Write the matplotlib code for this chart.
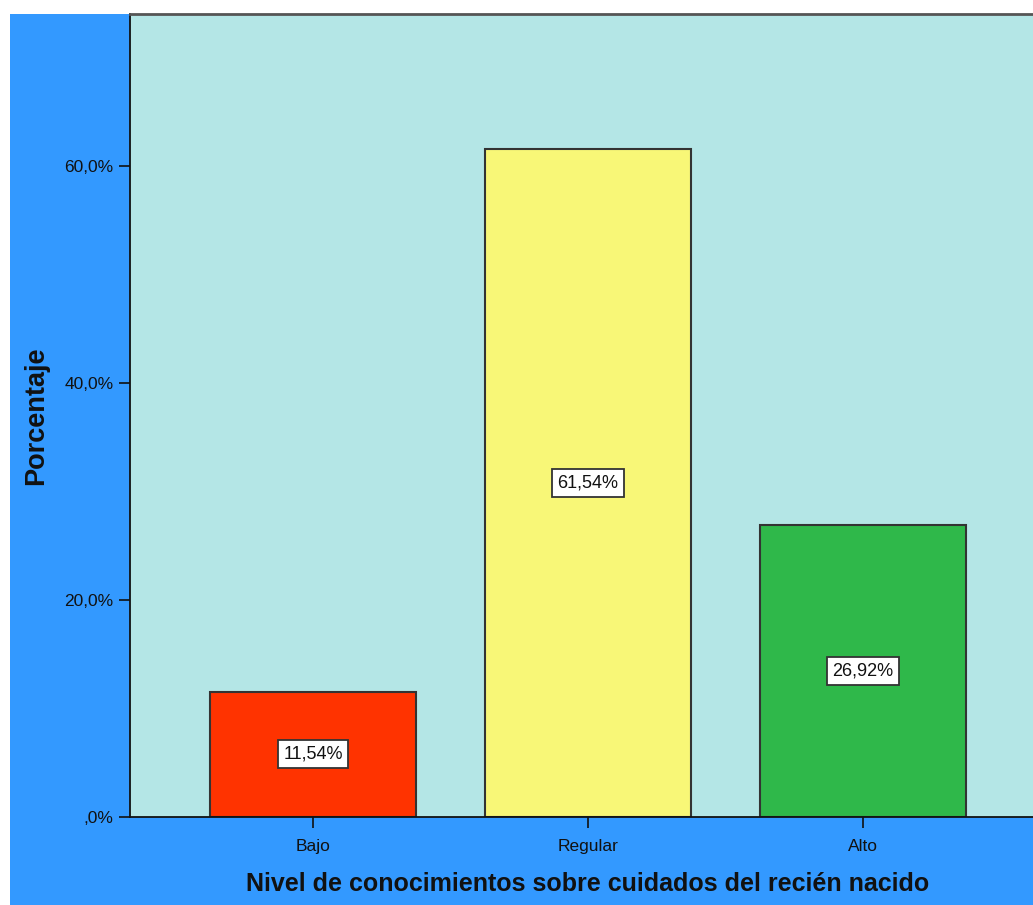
import matplotlib
matplotlib.use("Agg")
import matplotlib.pyplot as plt
from matplotlib.patches import Rectangle
from matplotlib.ticker import FuncFormatter

categories = ["Bajo", "Regular", "Alto"]
percentages = [11.54, 61.54, 26.92]
bar_colors = ["#FF3300", "#F8F777", "#2FB84A"]
yticks = [0, 20, 40, 60]

plt.rcParams['font.family'] = ['Liberation Sans', 'DejaVu Sans']

W, H = 1033, 905
fig = plt.figure(figsize=(W / 100, H / 100), dpi=100, facecolor="white")
fig.patches.append(Rectangle((10 / W, 0), 1 - 10 / W, (H - 14) / H,
                             transform=fig.transFigure, facecolor="#3399FF",
                             edgecolor="none", zorder=-10))

ax = fig.add_axes([130 / W, (H - 817) / H, (1046 - 130) / W, (817 - 14) / H])
ax.set_facecolor("#B4E6E6")

x = list(range(len(categories)))
ax.bar(x, percentages, width=0.75, color=bar_colors, edgecolor="#333333",
       linewidth=1.5, zorder=2)

for xi, v in zip(x, percentages):
    ax.text(xi, v / 2, f"{v:.2f}%".replace(".", ","), ha="center", va="center",
            fontsize=13, color="#111111", zorder=3,
            bbox=dict(boxstyle="square,pad=0.3", facecolor="white",
                      edgecolor="#333333", linewidth=1.3))

ax.set_xlim(-0.665, 2.665)
ax.set_ylim(0, 74)
ax.set_yticks(yticks)
ax.yaxis.set_major_formatter(FuncFormatter(
    lambda v, p: (",0%" if v == 0 else f"{v:.1f}%".replace(".", ","))))
ax.set_xticks(x)
ax.set_xticklabels(categories)
ax.tick_params(axis="both", direction="out", length=8, width=1.2,
               labelsize=12.5, colors="#111111")
ax.tick_params(axis="x", pad=8)
ax.tick_params(axis="y", pad=4)

for s in ["left", "bottom"]:
    ax.spines[s].set_color("#111111")
    ax.spines[s].set_linewidth(1.3)
ax.spines["top"].set_color("#555555")
ax.spines["top"].set_linewidth(2)
ax.spines["right"].set_visible(False)

ax.set_xlabel("Nivel de conocimientos sobre cuidados del recién nacido",
              fontsize=18, fontweight="bold", color="#111111", labelpad=13)
ax.set_ylabel("Porcentaje", fontsize=19.5, fontweight="bold", color="#111111",
              labelpad=11)

fig.savefig("out.png", dpi=100, facecolor=fig.get_facecolor())
